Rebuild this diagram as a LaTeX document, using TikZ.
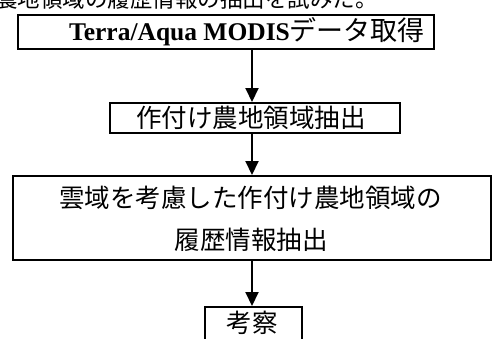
\documentclass[tikz,border=0pt]{standalone}
\usepackage{fontspec}
\setmainfont{Liberation Serif}
\newfontfamily\jp{Noto Sans CJK JP}
\usetikzlibrary{arrows.meta}
\tikzset{
  box/.style={draw=black, line width=2pt, rectangle, inner sep=0pt, anchor=center},
  arr/.style={line width=2pt, -{Triangle[length=14pt,width=13pt]}},
  jptext/.style={font=\jp\fontsize{25.5}{42}\selectfont},
}
\begin{document}
\begin{tikzpicture}[x=1pt,y=-1pt]
\useasboundingbox (0,0) rectangle (492,338);
\clip (0,0) rectangle (492,338);
\fill[white] (0,0) rectangle (492,338);
% cropped line of the text above
\node[anchor=south west, inner sep=0pt, font=\jp\fontsize{22.5}{22.5}\selectfont] (toptext) at (-5,10) {農地領域の履歴情報の抽出を試みた。};
% boxes
\node[box, minimum width=416pt, minimum height=34pt] (b1) at (226,32) {};
\node[inner sep=0pt] (t1) at (247,32) {\fontsize{25.5}{25.5}\selectfont\textbf{Terra/Aqua MODIS}{\jp\fontsize{27}{27}\selectfont データ取得}};
\node[box, jptext, minimum width=290pt, minimum height=30pt] (b2) at (255,118) {};
\node[jptext, inner sep=0pt] (t2) at (251,118) {作付け農地領域抽出};
\node[box, minimum width=478pt, minimum height=84pt] (b3) at (252,218) {};
\node[jptext, inner sep=0pt] (t3a) at (250.5,198) {雲域を考慮した作付け農地領域の};
\node[jptext, inner sep=0pt] (t3b) at (251,240) {履歴情報抽出};
\node[box, minimum width=97pt, minimum height=40pt] (b4) at (253.5,327) {};
\node[jptext, inner sep=0pt] (t4) at (252,323) {考察};
% arrows
\coordinate (ax) at (252,0);
\draw[arr] (b1.south -| ax) -- (b2.north -| ax);
\draw[arr] (b2.south -| ax) -- (b3.north -| ax);
\draw[arr] (b3.south -| ax) -- (b4.north -| ax);
\end{tikzpicture}
\end{document}
